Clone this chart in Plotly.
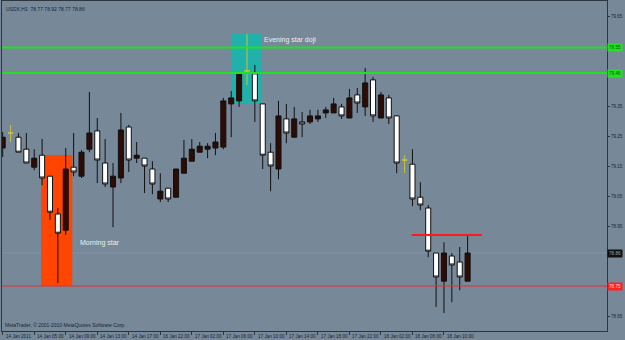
import plotly.graph_objects as go

# ---- data (USDX, H1) ----
bar_index = list(range(60))
opens = [79.210, 79.260, 79.246, 79.206, 79.146, 79.186, 79.116, 78.990, 78.936, 79.146,
         79.116, 79.206, 79.267, 79.160, 79.080, 79.110, 79.280, 79.176, 79.176, 79.140,
         79.040, 79.076, 79.046, 79.126, 79.166, 79.196, 79.206, 79.210, 79.213, 79.357,
         79.367, 79.467, 79.457, 79.357, 79.196, 79.140, 79.307, 79.246, 79.297, 79.297,
         79.307, 79.327, 79.327, 79.347, 79.310, 79.387, 79.347, 79.437, 79.310, 79.377,
         79.317, 79.170, 79.156, 79.046, 79.010, 78.860, 78.766, 78.850, 78.830, 78.766]
highs = [79.263, 79.287, 79.260, 79.260, 79.206, 79.240, 79.116, 79.010, 79.210, 79.260,
         79.203, 79.397, 79.310, 79.240, 79.160, 79.327, 79.287, 79.230, 79.176, 79.166,
         79.126, 79.076, 79.140, 79.237, 79.240, 79.230, 79.226, 79.260, 79.377, 79.400,
         79.457, 79.590, 79.487, 79.357, 79.226, 79.367, 79.357, 79.347, 79.330, 79.337,
         79.337, 79.347, 79.377, 79.357, 79.407, 79.410, 79.477, 79.447, 79.397, 79.387,
         79.317, 79.186, 79.206, 79.096, 79.020, 78.860, 78.896, 78.860, 78.880, 78.920]
lows = [79.180, 79.230, 79.196, 79.160, 79.136, 79.086, 78.970, 78.760, 78.920, 79.116,
        79.110, 79.196, 79.093, 79.080, 78.946, 79.093, 79.130, 79.160, 79.060, 79.056,
        79.030, 79.030, 79.046, 79.126, 79.166, 79.196, 79.176, 79.186, 79.206, 79.246,
        79.347, 79.420, 79.297, 79.140, 79.066, 79.106, 79.226, 79.246, 79.246, 79.290,
        79.297, 79.310, 79.327, 79.307, 79.310, 79.327, 79.317, 79.297, 79.310, 79.290,
        79.126, 79.126, 79.016, 79.003, 78.846, 78.680, 78.660, 78.696, 78.736, 78.766]
closes = [79.246, 79.260, 79.196, 79.160, 79.176, 79.110, 78.996, 78.926, 79.140, 79.130,
          79.196, 79.260, 79.170, 79.090, 79.116, 79.270, 79.170, 79.186, 79.150, 79.090,
          79.066, 79.040, 79.140, 79.176, 79.206, 79.216, 79.216, 79.230, 79.367, 79.377,
          79.457, 79.467, 79.367, 79.186, 79.150, 79.317, 79.260, 79.307, 79.290, 79.317,
          79.317, 79.337, 79.357, 79.317, 79.377, 79.360, 79.427, 79.317, 79.387, 79.310,
          79.160, 79.170, 79.040, 79.020, 78.866, 78.780, 78.860, 78.820, 78.780, 78.860]

time_tick_bars = [0, 4, 8, 12, 16, 20, 24, 28, 32, 36, 40, 44, 48, 52, 56]
time_tick_labels = ["14 Jan 2011", "14 Jan 05:00", "14 Jan 09:00", "14 Jan 13:00", "14 Jan 17:00",
                    "16 Jan 22:00", "17 Jan 02:00", "17 Jan 06:00", "17 Jan 10:00", "17 Jan 14:00",
                    "17 Jan 18:00", "17 Jan 22:00", "18 Jan 02:00", "18 Jan 06:00", "18 Jan 10:00"]
price_ticks = [78.65, 78.75, 78.85, 78.95, 79.05, 79.15, 79.25, 79.35, 79.45, 79.55, 79.65]
# tick labels hidden behind the coloured price markers
price_tick_text = ["78.65", "", "", "78.95", "79.05", "79.15", "79.25", "79.35", "", "", "79.65"]

green_levels = [79.545, 79.46]
red_level = 78.75
bid_level = 78.86
resistance = dict(x0=51.9, x1=60.8, y=78.92)
morning_rect = dict(x0=4.86, x1=8.83, y0=78.75, y1=79.187)
evening_rect = dict(x0=28.97, x1=32.87, y0=79.36, y1=79.59)

BG = "#778899"
FG = "#1c2630"
FONT = "Liberation Sans"

# split dojis (open == close) into their own trace
reg = [i for i in bar_index if opens[i] != closes[i]]
doj = [i for i in bar_index if opens[i] == closes[i]]

fig = go.Figure()
fig.add_trace(go.Candlestick(
    x=[bar_index[i] for i in reg], open=[opens[i] for i in reg], high=[highs[i] for i in reg],
    low=[lows[i] for i in reg], close=[closes[i] for i in reg],
    increasing=dict(fillcolor="#2e0b04", line=dict(color="#111111", width=1)),
    decreasing=dict(fillcolor="#ffffff", line=dict(color="#111111", width=1)),
    hoverinfo="skip", showlegend=False))
fig.add_trace(go.Candlestick(
    x=[bar_index[i] for i in doj], open=[opens[i] for i in doj], high=[highs[i] for i in doj],
    low=[lows[i] for i in doj], close=[closes[i] for i in doj],
    increasing=dict(fillcolor="#c8c040", line=dict(color="#c8c040", width=1)),
    decreasing=dict(fillcolor="#c8c040", line=dict(color="#c8c040", width=1)),
    hoverinfo="skip", showlegend=False))

shapes = [
    dict(type="rect", layer="below", x0=morning_rect["x0"], x1=morning_rect["x1"],
         y0=morning_rect["y0"], y1=morning_rect["y1"], fillcolor="#ff4500", line=dict(width=0)),
    dict(type="rect", layer="below", x0=evening_rect["x0"], x1=evening_rect["x1"],
         y0=evening_rect["y0"], y1=evening_rect["y1"], fillcolor="#20b2aa", line=dict(width=0)),
    dict(type="line", layer="below", xref="paper", x0=0, x1=1, y0=bid_level, y1=bid_level,
         line=dict(color="#8492a0", width=1)),
    dict(type="line", xref="paper", x0=0, x1=1, y0=red_level, y1=red_level,
         line=dict(color="#e03030", width=1)),
    dict(type="line", x0=resistance["x0"], x1=resistance["x1"], y0=resistance["y"], y1=resistance["y"],
         line=dict(color="#ff1a1a", width=2)),
]
for g in green_levels:
    shapes.append(dict(type="line", xref="paper", x0=0, x1=1, y0=g, y1=g,
                       line=dict(color="#22e022", width=2)))

ann = []
ann.append(dict(xref="paper", yref="paper", x=0, y=1, xanchor="left", yanchor="top", xshift=2, yshift=-3,
                text="USDX,H1  78.77 78.92 78.77 78.86", showarrow=False,
                font=dict(family=FONT, size=5, color=FG)))
ann.append(dict(xref="paper", yref="paper", x=0, y=0, xanchor="left", yanchor="bottom", xshift=1, yshift=1,
                text="MetaTrader, © 2001-2010 MetaQuotes Software Corp.", showarrow=False,
                font=dict(family=FONT, size=5, color=FG)))
ann.append(dict(x=9.56, y=78.893, xanchor="left", yanchor="middle", text="Morning star",
                showarrow=False, font=dict(family=FONT, size=7, color="#eeeeee")))
ann.append(dict(x=32.9, y=79.57, xanchor="left", yanchor="middle", text="Evening star doji",
                showarrow=False, font=dict(family=FONT, size=7, color="#eeeeee")))
for b, t in zip(time_tick_bars, time_tick_labels):
    ann.append(dict(x=b, yref="paper", y=0, xanchor="left", yanchor="top", xshift=1, yshift=-1,
                    text=t, showarrow=False, font=dict(family=FONT, size=4.6, color=FG)))
# price markers on the right
for lvl, bg, fc in [(green_levels[0], "#22e022", "#0a5a0a"), (green_levels[1], "#22e022", "#0a5a0a"),
                    (bid_level, "#111111", "#9aa4ae"), (red_level, "#ff2020", "#ffdddd")]:
    ann.append(dict(xref="paper", x=1, y=lvl, xanchor="left", yanchor="middle", xshift=0,
                    text="%.2f" % lvl, showarrow=False, bgcolor=bg, borderpad=1,
                    font=dict(family=FONT, size=4.6, color=fc)))

fig.update_layout(
    width=625, height=340, margin=dict(l=2, r=18, t=1, b=9),
    paper_bgcolor=BG, plot_bgcolor=BG, showlegend=False,
    boxgap=0.2, boxgroupgap=0.2,
    shapes=shapes, annotations=ann,
    xaxis=dict(range=[-0.089, 76.69], showgrid=False, zeroline=False, showline=True, mirror=True,
               linecolor="#2b3640", linewidth=1, ticks="outside", ticklen=3, tickcolor="#2b3640",
               tickvals=time_tick_bars, showticklabels=False, rangeslider=dict(visible=False),
               fixedrange=True),
    yaxis=dict(range=[78.60, 79.70], side="right", showgrid=False, zeroline=False, showline=True,
               mirror=True, linecolor="#2b3640", linewidth=1, ticks="outside", ticklen=2,
               tickcolor="#2b3640", tickvals=price_ticks, ticktext=price_tick_text,
               tickfont=dict(family=FONT, size=4.6, color=FG), fixedrange=True),
)

fig.write_html("out.html", config={"displayModeBar": False})
